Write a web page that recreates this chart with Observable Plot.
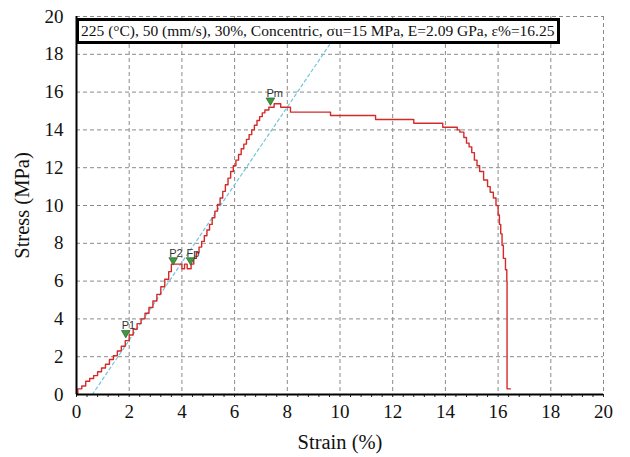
<!DOCTYPE html>
<html>
<head>
<meta charset="utf-8">
<script src="https://cdn.jsdelivr.net/npm/d3@7"></script>
<script src="https://cdn.jsdelivr.net/npm/@observablehq/plot@0.6"></script>
<style>
  body { margin: 0; background: #fff; overflow: hidden; }
  #wrap { position: relative; width: 630px; height: 457px; }
  #note {
    position: absolute; left: 76px; top: 18px; width: 476px; height: 20px;
    border: 3px solid #000; background: #fff;
    font-family: "Liberation Serif", "DejaVu Serif", serif; font-size: 15.5px;
    line-height: 20px; padding-left: 2px; white-space: nowrap; color: #111;
  }
</style>
</head>
<body>
<div id="wrap"><div id="note">225 (°C), 50 (mm/s), 30%, Concentric, σu=15 MPa, E=2.09 GPa, ε%=16.25</div></div>
<script>
// Stress–strain curve
const strain = [0,0.05,0.2,0.35,0.5,0.65,0.8,0.95,1.1,1.25,1.4,1.55,1.7,1.85,2.0,2.15,2.3,2.45,2.6,2.75,2.9,3.05,3.2,3.35,3.5,3.6,4.0,4.1,4.2,4.35,4.45,4.55,4.65,4.75,4.85,4.95,5.05,5.15,5.25,5.35,5.45,5.55,5.65,5.75,5.85,5.95,6.05,6.15,6.25,6.35,6.45,6.55,6.65,6.75,6.85,6.95,7.05,7.15,7.3,7.5,7.75,8.12,9.64,11.35,12.8,13.9,14.45,14.55,14.7,14.8,14.9,15.0,15.1,15.2,15.3,15.45,15.6,15.7,15.82,15.92,16.0,16.05,16.1,16.15,16.2,16.28,16.33,16.34,16.47];
const stress = [0,0.3,0.45,0.7,0.85,1.0,1.2,1.4,1.6,1.85,2.05,2.3,2.55,2.85,3.15,3.45,3.75,4.0,4.3,4.6,4.95,5.3,5.7,6.1,6.5,6.9,6.65,6.9,6.65,6.9,7.2,7.5,7.8,8.1,8.4,8.7,9.0,9.35,9.7,10.05,10.4,10.75,11.1,11.45,11.8,12.1,12.4,12.7,13.0,13.25,13.5,13.75,14.0,14.25,14.5,14.7,14.9,15.05,15.2,15.38,15.2,14.94,14.76,14.55,14.35,14.14,14.0,13.88,13.6,13.3,13.1,12.8,12.4,12.1,11.8,11.35,11.0,10.7,10.4,10.0,9.5,9.0,8.5,7.9,7.2,6.6,6.0,0.3,0.3];

// Modulus (tangent) line
const modStrain = [0.6, 9.6];
const modStress = [0, 18.5];

// Markers
const markName = ["P1", "P2", "Fp", "Pm"];
const markStrain = [1.87, 3.67, 4.33, 7.36];
const markStress = [3.1, 6.95, 6.95, 15.4];

const xTicks = [0,2,4,6,8,10,12,14,16,18,20];
const yTicks = [0,2,4,6,8,10,12,14,16,18,20];
const gridX = [2,4,6,8,10,12,14,16,18,20];
const gridY = [2,4,6,8,10,12,14,16,18,20];
const minorX = d3.range(0, 20.001, 0.4);

const curve = strain.map((s, i) => ({strain: s, stress: stress[i]}));
const modLine = modStrain.map((s, i) => ({strain: s, stress: modStress[i]}));
const marks = markName.map((n, i) => ({name: n, strain: markStrain[i], stress: markStress[i]}));

const serif = "'Liberation Serif', 'DejaVu Serif', serif";
const sans = "'Liberation Sans', Arial, sans-serif";

const chart = Plot.plot({
  width: 630,
  height: 457,
  marginLeft: 76,
  marginRight: 27,
  marginTop: 16,
  marginBottom: 63,
  style: {background: "#fff", color: "#111"},
  x: {domain: [0, 20]},
  y: {domain: [0, 20]},
  marks: [
    Plot.ruleX(gridX, {stroke: "#8a8a8a", strokeWidth: 1, strokeDasharray: "4,3"}),
    Plot.ruleY(gridY, {stroke: "#8a8a8a", strokeWidth: 1, strokeDasharray: "4,3"}),
    Plot.axisX({ticks: minorX, tickSize: 3, text: null, label: null, stroke: "#222"}),
    Plot.axisX({ticks: xTicks, tickSize: 0, tickPadding: 10, label: null, fontSize: 19, fontFamily: serif, fill: "#111"}),
    Plot.axisY({ticks: yTicks, tickSize: 0, tickPadding: 13, label: null, fontSize: 19, fontFamily: serif, fill: "#111"}),
    Plot.axisX({ticks: [], tickSize: 0, label: "Strain (%)", labelAnchor: "center", labelArrow: "none", labelOffset: 54, fontSize: 20.5, fontFamily: serif, fill: "#111"}),
    Plot.axisY({ticks: [], tickSize: 0, label: "Stress (MPa)", labelAnchor: "center", labelArrow: "none", labelOffset: 62, fontSize: 20.5, fontFamily: serif, fill: "#111"}),
    Plot.line(modLine, {x: "strain", y: "stress", stroke: "#6ec6dc", strokeWidth: 1.2, strokeDasharray: "3,3"}),
    Plot.line(curve, {x: "strain", y: "stress", curve: "step-after", stroke: "#d42a2a", strokeWidth: 1.4}),
    Plot.ruleX([0], {stroke: "#000", strokeWidth: 2}),
    Plot.ruleY([0], {stroke: "#000", strokeWidth: 2}),
    Plot.dot(marks, {x: "strain", y: "stress", symbol: "triangle", rotate: 180, r: 3.2, dy: -3, fill: "#3f9a3f", stroke: "#1d4d1d", strokeWidth: 0.6}),
    Plot.text(marks, {x: "strain", y: "stress", text: "name", textAnchor: "start", dx: -4, dy: -10, fontFamily: sans, fontSize: 11, fill: "#333"})
  ]
});
document.getElementById("wrap").prepend(chart);
chart.style.position = "absolute";
chart.style.left = "0";
chart.style.top = "0";
</script>
</body>
</html>
